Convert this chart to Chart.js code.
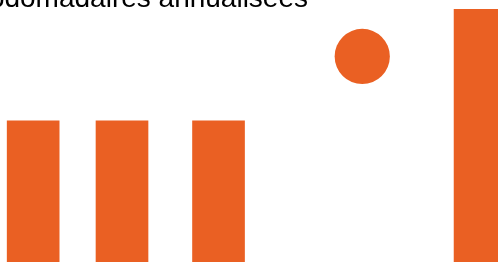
<!DOCTYPE html>
<html><head><meta charset="utf-8">
<script src="https://cdn.jsdelivr.net/npm/chart.js@4"></script>
<style>html,body{margin:0;padding:0;background:#fff;overflow:hidden}canvas{display:block}</style>
</head><body><canvas id="c" width="498" height="264"></canvas>
<script>
const titleText = 'Heures hebdomadaires annualisées';
const barPositions = [3.33, 12.25, 21.94, 48.2];
const barValues = [35, 35, 35, 62.7];
const pointPositions = [36.37];
const pointValues = [51];

const orange = '#EA6023';

const titlePlugin = {
  id: 'croppedTitle',
  afterDraw(chart) {
    const ctx = chart.ctx;
    ctx.save();
    ctx.font = '28px "Liberation Sans", Arial, sans-serif';
    ctx.fillStyle = '#000';
    ctx.textAlign = 'right';
    ctx.textBaseline = 'alphabetic';
    ctx.fillText(titleText, 308, 7);
    ctx.restore();
  }
};

new Chart(document.getElementById('c'), {
  type: 'bar',
  data: {
    datasets: [
      {
        type: 'bar',
        data: barPositions.map((x, i) => ({x: x, y: barValues[i]})),
        backgroundColor: orange,
        borderWidth: 0,
        barThickness: 52
      },
      {
        type: 'scatter',
        data: pointPositions.map((x, i) => ({x: x, y: pointValues[i]})),
        backgroundColor: orange,
        pointRadius: 27.6,
        pointHoverRadius: 27.6,
        pointBorderWidth: 0,
        borderWidth: 0
      }
    ]
  },
  options: {
    responsive: false,
    animation: false,
    devicePixelRatio: 1,
    layout: {autoPadding: false, padding: {left: 0, right: 0, top: 0, bottom: 2}},
    plugins: {legend: {display: false}, tooltip: {enabled: false}, title: {display: false}},
    scales: {
      x: {type: 'linear', min: 0, max: 50, offset: false, display: false},
      y: {min: 0, max: 65, display: false}
    }
  },
  plugins: [titlePlugin]
});
</script>
</body></html>
